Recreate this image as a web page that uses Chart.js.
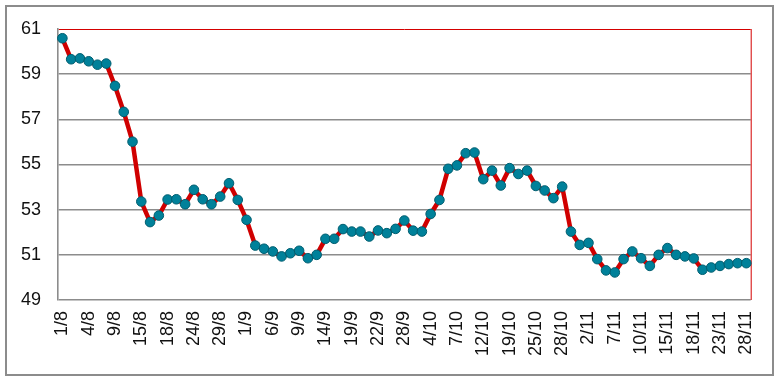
<!DOCTYPE html>
<html>
<head>
<meta charset="utf-8">
<script src="https://cdn.jsdelivr.net/npm/chart.js@4/dist/chart.umd.min.js"></script>
<style>
  html, body { margin: 0; padding: 0; background: #fff; }
  canvas { display: block; }
</style>
</head>
<body>
<canvas id="lineChart" width="779" height="383"></canvas>
<script>
// tick labels shown every third point
const tickLabels = [
    "1/8", "4/8", "9/8", "15/8", "18/8", "24/8", "29/8", "1/9", "6/9",
    "9/9", "14/9", "19/9", "22/9", "28/9", "4/10", "7/10", "12/10", "19/10",
    "25/10", "28/10", "2/11", "7/11", "10/11", "15/11", "18/11", "23/11", "28/11"
];

const values = [
    60.59, 59.66, 59.70, 59.57, 59.42, 59.47, 58.48, 57.33, 56.01, 53.36,
    52.45, 52.74, 53.45, 53.46, 53.24, 53.88, 53.46, 53.24, 53.58, 54.17,
    53.43, 52.55, 51.41, 51.27, 51.15, 50.93, 51.07, 51.18, 50.85, 51.00,
    51.71, 51.71, 52.14, 52.03, 52.03, 51.81, 52.08, 51.96, 52.15, 52.52,
    52.07, 52.03, 52.81, 53.43, 54.81, 54.96, 55.50, 55.53, 54.35, 54.73,
    54.07, 54.84, 54.58, 54.73, 54.05, 53.85, 53.51, 54.02, 52.03, 51.44,
    51.53, 50.81, 50.31, 50.22, 50.81, 51.15, 50.85, 50.51, 51.00, 51.30,
    51.00, 50.93, 50.84, 50.34, 50.44, 50.51, 50.59, 50.63, 50.63
];

const labelStep = 3;
const categories = values.map((v, i) => i % labelStep === 0 ? tickLabels[i / labelStep] : "");

const gridGrey = "#8c8c8c";
const borderRed = "#d40000";

const framePlugin = {
    id: "frame",
    beforeDraw(chart) {
        const c = chart.ctx;
        c.save();
        c.fillStyle = "#fff";
        c.fillRect(0, 0, chart.width, chart.height);
        c.strokeStyle = "#8c8c8c";
        c.lineWidth = 2;
        c.strokeRect(6, 6, 767, 369);
        c.restore();
    },
    beforeDatasetsDraw(chart) {
        const a = chart.chartArea;
        const c = chart.ctx;
        c.save();
        c.strokeStyle = borderRed;
        c.lineWidth = 1;
        c.beginPath();
        c.moveTo(a.right + 0.5, a.top);
        c.lineTo(a.right + 0.5, a.bottom);
        c.stroke();
        c.restore();
    }
};

const ctx = document.getElementById("lineChart").getContext("2d");
const chart = new Chart(ctx, {
    type: "line",
    data: {
        labels: categories,
        datasets: [{
            data: values,
            borderColor: "#d00000",
            borderWidth: 4.5,
            tension: 0,
            pointRadius: 4.8,
            pointBackgroundColor: "#00819a",
            pointBorderColor: "#005e70",
            pointBorderWidth: 1
        }]
    },
    options: {
        responsive: false,
        animation: false,
        layout: { padding: { left: 0, right: 14, top: 29, bottom: 0 } },
        scales: {
            x: {
                offset: true,
                grid: { display: false, drawTicks: false },
                border: { display: false },
                ticks: {
                    autoSkip: false,
                    minRotation: 90,
                    maxRotation: 90,
                    padding: 11,
                    color: "#111",
                    font: { family: "'Liberation Sans', Arial, sans-serif", size: 18 }
                },
                afterFit(scale) { scale.height = 83; }
            },
            y: {
                min: 49,
                max: 61,
                grid: {
                    drawTicks: false,
                    color: (c) => c.tick && c.tick.value === 61 ? borderRed : gridGrey,
                    lineWidth: (c) => c.tick && c.tick.value === 61 ? 1 : 1.6
                },
                border: { display: true, color: gridGrey, width: 1.6 },
                ticks: {
                    stepSize: 2,
                    padding: 17,
                    color: "#111",
                    font: { family: "'Liberation Sans', Arial, sans-serif", size: 18 }
                },
                afterFit(scale) { scale.width = 58; }
            }
        },
        plugins: {
            legend: { display: false },
            tooltip: { enabled: false }
        }
    },
    plugins: [framePlugin]
});
</script>
</body>
</html>
